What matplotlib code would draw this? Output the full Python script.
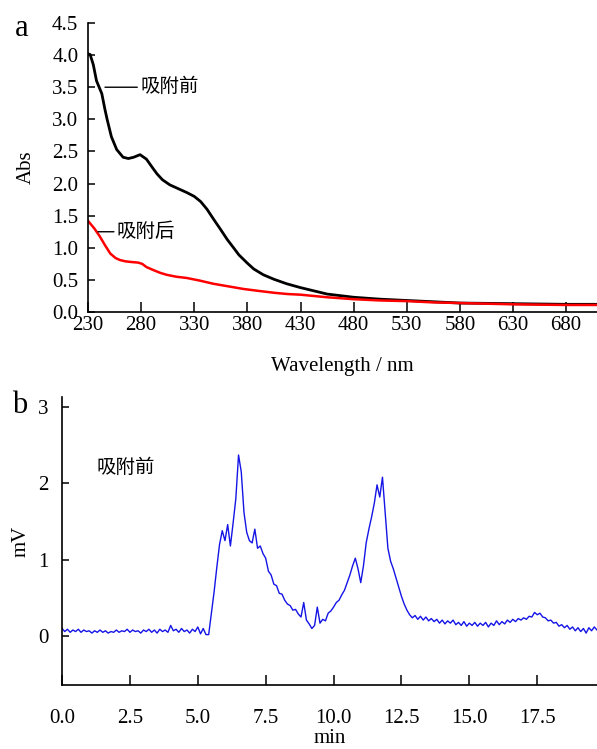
import numpy as np
import matplotlib
matplotlib.use("Agg")
import matplotlib.pyplot as plt

plt.rcParams['font.family'] = ['Liberation Serif', 'Noto Sans CJK SC']

# panel a: UV-Vis spectra
wl_before = [230, 232, 235, 238, 241, 243, 246, 248, 252, 257, 263, 268, 273, 279, 285,
             291, 295, 300, 307, 315, 323, 330, 336, 342, 348, 355, 361, 367, 372, 380,
             386, 395, 405, 417, 430, 455, 480, 505, 530, 555, 580, 630, 680, 710]
abs_before = [4.02, 4.01, 3.85, 3.60, 3.48, 3.40, 3.15, 3.00, 2.73, 2.53, 2.41, 2.39, 2.41, 2.45, 2.38,
              2.24, 2.15, 2.06, 1.98, 1.92, 1.86, 1.80, 1.72, 1.60, 1.45, 1.28, 1.13, 1.00, 0.89, 0.76,
              0.67, 0.58, 0.51, 0.44, 0.38, 0.28, 0.23, 0.20, 0.18, 0.16, 0.14, 0.13, 0.12, 0.12]

wl_after = [230, 236, 241, 246, 251, 256, 260, 265, 270, 277, 281, 285, 292, 298, 304,
            313, 323, 335, 348, 362, 376, 390, 405, 418, 430, 455, 480, 505, 530, 555,
            580, 630, 680, 710]
abs_after = [1.42, 1.30, 1.18, 1.04, 0.91, 0.84, 0.81, 0.79, 0.78, 0.77, 0.75, 0.70, 0.65, 0.61, 0.58,
             0.55, 0.53, 0.49, 0.44, 0.40, 0.36, 0.33, 0.30, 0.28, 0.27, 0.23, 0.20, 0.18, 0.17, 0.15,
             0.14, 0.12, 0.11, 0.11]

wl_ticks = [230, 280, 330, 380, 430, 480, 530, 580, 630, 680]
abs_ticks = [0.0, 0.5, 1.0, 1.5, 2.0, 2.5, 3.0, 3.5, 4.0, 4.5]

# panel b: chromatogram, one reading every 0.1 min from 0.0 to 19.7
mv = [0.10, 0.06, 0.09, 0.05, 0.08, 0.06, 0.09, 0.05, 0.08, 0.06,
      0.07, 0.04, 0.07, 0.05, 0.08, 0.05, 0.07, 0.04, 0.06, 0.05,
      0.08, 0.05, 0.07, 0.06, 0.09, 0.05, 0.08, 0.06, 0.07, 0.04,
      0.08, 0.06, 0.09, 0.05, 0.08, 0.04, 0.09, 0.06, 0.08, 0.05,
      0.14, 0.07, 0.09, 0.05, 0.10, 0.06, 0.08, 0.04, 0.09, 0.06,
      0.12, 0.03, 0.10, 0.02, 0.02, 0.30, 0.58, 0.90, 1.20, 1.38,
      1.25, 1.46, 1.18, 1.48, 1.80, 2.37, 2.15, 1.62, 1.36, 1.25,
      1.22, 1.40, 1.15, 1.18, 1.08, 1.02, 0.85, 0.80, 0.68, 0.66,
      0.56, 0.55, 0.47, 0.42, 0.40, 0.34, 0.35, 0.29, 0.25, 0.44,
      0.21, 0.16, 0.10, 0.14, 0.38, 0.17, 0.22, 0.20, 0.30, 0.33,
      0.38, 0.44, 0.47, 0.54, 0.60, 0.70, 0.80, 0.92, 1.02, 0.88,
      0.70, 0.92, 1.22, 1.40, 1.56, 1.74, 1.98, 1.82, 2.08, 1.62,
      1.15, 0.98, 0.88, 0.76, 0.64, 0.52, 0.42, 0.34, 0.28, 0.24,
      0.27, 0.22, 0.26, 0.21, 0.25, 0.20, 0.23, 0.19, 0.22, 0.17,
      0.21, 0.16, 0.20, 0.17, 0.21, 0.15, 0.18, 0.14, 0.19, 0.13,
      0.17, 0.14, 0.18, 0.13, 0.17, 0.14, 0.18, 0.12, 0.17, 0.14,
      0.20, 0.15, 0.19, 0.16, 0.21, 0.18, 0.22, 0.19, 0.23, 0.21,
      0.24, 0.22, 0.26, 0.25, 0.31, 0.28, 0.30, 0.25, 0.24, 0.20,
      0.21, 0.17, 0.18, 0.13, 0.15, 0.11, 0.14, 0.09, 0.12, 0.07,
      0.11, 0.06, 0.10, 0.04, 0.11, 0.07, 0.12, 0.08]
t_min = np.arange(len(mv)) * 0.1

min_ticks = [0.0, 2.5, 5.0, 7.5, 10.0, 12.5, 15.0, 17.5]
mv_ticks = [0, 1, 2, 3]

fig = plt.figure(figsize=(5.97, 7.49), dpi=100)


def style_axes(ax):
    for s in ['top', 'right']:
        ax.spines[s].set_visible(False)
    for s in ['left', 'bottom']:
        ax.spines[s].set_linewidth(1.2)
    ax.tick_params(direction='in', width=1.1, labelsize=15)


# ---- panel a
ax1 = fig.add_axes([0.1474, 0.5834, 0.8526, 0.3859])
style_axes(ax1)
ax1.plot(wl_before, abs_before, color='black', lw=2.0)
ax1.plot(wl_after, abs_after, color='#ff0000', lw=1.8)
ax1.set_xlim(230, 709)
ax1.set_ylim(0, 4.5)
ax1.set_xticks(wl_ticks)
ax1.set_yticks(abs_ticks)
ax1.set_yticklabels(['%.1f' % v for v in abs_ticks])
ax1.tick_params(axis='x', length=7, pad=3)
ax1.tick_params(axis='y', length=5, pad=7)
ax1.set_xlabel('Wavelength / nm', fontsize=15, labelpad=16)
ax1.set_ylabel('Abs', fontsize=15, labelpad=12)

ax1.annotate('吸附前', xy=(246, 3.5), xytext=(279, 3.5), fontsize=14, va='center',
             arrowprops=dict(arrowstyle='-', lw=1.0, color='black', shrinkA=0, shrinkB=0))
ax1.annotate('吸附后', xy=(239.5, 1.25), xytext=(257, 1.25), fontsize=14, va='center',
             arrowprops=dict(arrowstyle='-', lw=1.0, color='black', shrinkA=0, shrinkB=0))

fig.text(22 / 597, 1 - 28 / 749, 'a', fontsize=22, ha='center', va='center')

# ---- panel b
ax2 = fig.add_axes([0.1039, 0.0854, 0.8961, 0.3846])
style_axes(ax2)
ax2.plot(t_min, mv, color='#1414e6', lw=1.0)
ax2.set_xlim(0, 19.7)
ax2.set_ylim(-0.64, 3.13)
ax2.set_xticks(min_ticks)
ax2.set_xticklabels(['%.1f' % v for v in min_ticks])
ax2.set_yticks(mv_ticks)
ax2.tick_params(axis='x', length=7, pad=17)
ax2.tick_params(axis='y', length=5, pad=10)
ax2.set_xlabel('min', fontsize=15, labelpad=1)
ax2.set_ylabel('mV', fontsize=15, labelpad=5)
ax2.text(1.26, 2.21, '吸附前', fontsize=14, va='center')

fig.text(20 / 597, 1 - 405 / 749, 'b', fontsize=22, ha='center', va='center')

fig.savefig('out.png', dpi=100)
